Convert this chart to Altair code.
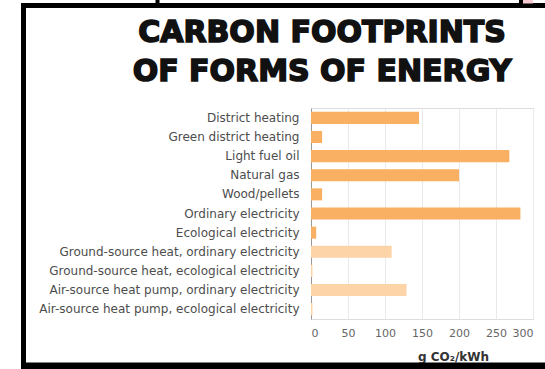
import altair as alt
import pandas as pd

categories = [
    "District heating",
    "Green district heating",
    "Light fuel oil",
    "Natural gas",
    "Wood/pellets",
    "Ordinary electricity",
    "Ecological electricity",
    "Ground-source heat, ordinary electricity",
    "Ground-source heat, ecological electricity",
    "Air-source heat pump, ordinary electricity",
    "Air-source heat pump, ecological electricity",
]
values = [146, 15, 268, 200, 15, 283, 7, 109, 2, 129, 2]
groups = ["a", "a", "a", "a", "a", "a", "a", "b", "b", "b", "b"]
title_lines = ["CARBON FOOTPRINTS", "OF FORMS OF ENERGY"]

df = pd.DataFrame({"cat": categories, "val": values, "grp": groups})
one = pd.DataFrame({"k": [0]})

W, H = 222, 211
L, T = 311, 108

bars = alt.Chart(df).mark_bar().encode(
    y=alt.Y("cat:N", sort=categories, title=None,
            scale=alt.Scale(paddingInner=0.37, paddingOuter=0.2),
            axis=alt.Axis(labelFont="DejaVu Sans", labelFontSize=12, labelColor="#4d4d4d",
                          ticks=False, domainColor="#999", labelPadding=12, labelLimit=400)),
    x=alt.X("val:Q", scale=alt.Scale(domain=[0, 300], nice=False),
            title="g CO₂/kWh",
            axis=alt.Axis(values=[0, 50, 100, 150, 200, 250, 300], labelFont="DejaVu Sans",
                          labelFontSize=11, labelColor="#666", domain=False, ticks=False,
                          labelPadding=8, gridColor="#e9e9e9", titleFont="DejaVu Sans",
                          titleFontWeight="bold", titleFontSize=12, titleColor="#333",
                          titleX=142, titleY=37, titleBaseline="middle")),
    color=alt.Color("grp:N", scale=alt.Scale(domain=["a", "b"], range=["#F9B062", "#FDD4A8"]),
                    legend=None),
)

t1 = alt.Chart(one).mark_text(text=title_lines[0], font="DejaVu Sans", fontSize=30,
                              fontWeight="bold", color="#111", stroke="#111", strokeWidth=1.6,
                              align="center", baseline="alphabetic").encode(
    x=alt.value(322 - L), y=alt.value(42 - T))
t2 = alt.Chart(one).mark_text(text=title_lines[1], font="DejaVu Sans", fontSize=30,
                              fontWeight="bold", color="#111", stroke="#111", strokeWidth=1.6,
                              align="center", baseline="alphabetic").encode(
    x=alt.value(322 - L), y=alt.value(81 - T))

frame_left = alt.Chart(one).mark_rule(color="black", strokeWidth=5).encode(
    x=alt.value(23.5 - L), y=alt.value(3 - T), y2=alt.value(369 - T))
frame_top = alt.Chart(one).mark_rule(color="black", strokeWidth=5).encode(
    x=alt.value(21 - L), x2=alt.value(545 - L), y=alt.value(5.5 - T))
frame_bot = alt.Chart(one).mark_rule(color="black", strokeWidth=7).encode(
    x=alt.value(21 - L), x2=alt.value(545 - L), y=alt.value(366 - T))
nub1 = alt.Chart(one).mark_rule(color="black", strokeWidth=4).encode(
    x=alt.value(157.5 - L), y=alt.value(0 - T), y2=alt.value(4 - T))
nub2 = alt.Chart(one).mark_rule(color="black", strokeWidth=4).encode(
    x=alt.value(521 - L), y=alt.value(0 - T), y2=alt.value(4 - T))
nub3 = alt.Chart(one).mark_rule(color="#f7c9d2", strokeWidth=10).encode(
    x=alt.value(528 - L), y=alt.value(0 - T), y2=alt.value(3.5 - T))

chart = alt.layer(bars, t1, t2, frame_left, frame_top, frame_bot, nub1, nub2, nub3).properties(
    width=W, height=H,
    autosize=alt.AutoSizeParams(type="none"),
    padding={"left": L, "top": T, "right": 545 - L - W, "bottom": 369 - T - H},
).configure_view(stroke=None).configure(background="white")

chart.save("out.html", embed_options={"renderer": "svg", "actions": False})
